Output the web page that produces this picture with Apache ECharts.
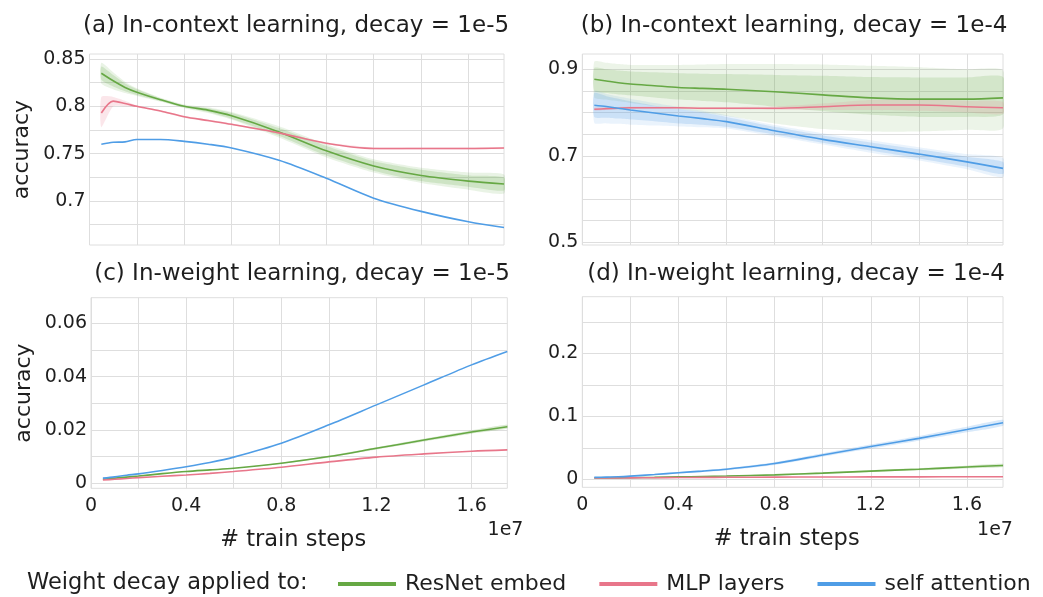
<!DOCTYPE html>
<html><head><meta charset="utf-8">
<script src="https://cdn.jsdelivr.net/npm/echarts@6/dist/echarts.min.js"></script>
<style>html,body{margin:0;padding:0;background:#fff}#c{width:1043px;height:597px}</style>
</head><body><div id="c"></div>
<script>
// ---------- data ----------
const steps = [5e5, 1e6, 1.5e6, 2e6, 3e6, 4e6, 5e6, 6e6, 8e6, 1e7, 1.2e7, 1.4e7, 1.6e7, 1.75e7];
const xGridTicks = [0, 2e6, 4e6, 6e6, 8e6, 1e7, 1.2e7, 1.4e7, 1.6e7];
const xLabelTicks = [0, 4e6, 8e6, 1.2e7, 1.6e7];
const seriesNames = ['ResNet embed', 'MLP layers', 'self attention'];

// (a) In-context, decay 1e-5
const aGreen   = [0.835,0.827,0.820,0.815,0.807,0.800,0.796,0.790,0.773,0.753,0.737,0.727,0.721,0.718];
const aGreenInLo = [0.828,0.821,0.816,0.812,0.8055,0.799,0.794,0.787,0.769,0.748,0.732,0.721,0.715,0.711];
const aGreenInHi = [0.842,0.833,0.824,0.818,0.8085,0.801,0.798,0.793,0.777,0.758,0.742,0.733,0.727,0.725];
const aGreenOutLo = [0.824,0.818,0.814,0.811,0.805,0.798,0.793,0.786,0.767,0.746,0.730,0.719,0.712,0.708];
const aGreenOutHi = [0.846,0.836,0.826,0.819,0.809,0.802,0.799,0.794,0.779,0.760,0.744,0.735,0.730,0.728];
const aRed     = [0.793,0.8055,0.803,0.800,0.795,0.789,0.785,0.781,0.772,0.761,0.7555,0.7555,0.7555,0.756];
const aRedLo   = [0.778,0.800,0.800,0.799,0.794,0.788,0.784,0.780,0.771,0.760,0.7545,0.7545,0.7545,0.755];
const aRedHi   = [0.810,0.810,0.806,0.801,0.796,0.790,0.786,0.782,0.773,0.762,0.7565,0.7565,0.7565,0.757];
const aBlue    = [0.760,0.762,0.7625,0.765,0.765,0.763,0.760,0.756,0.743,0.724,0.703,0.689,0.678,0.672];

// (b) In-context, decay 1e-4
const bGreen   = [0.877,0.873,0.869,0.866,0.862,0.858,0.856,0.854,0.848,0.841,0.834,0.831,0.831,0.834];
const bGreenInLo = [0.850,0.845,0.842,0.840,0.835,0.830,0.827,0.824,0.814,0.803,0.795,0.790,0.790,0.796];
const bGreenInHi = [0.903,0.900,0.897,0.895,0.893,0.891,0.890,0.889,0.887,0.885,0.882,0.881,0.881,0.882];
const bGreenOutLo = [0.835,0.830,0.826,0.822,0.815,0.808,0.800,0.792,0.775,0.762,0.756,0.756,0.760,0.764];
const bGreenOutHi = [0.918,0.915,0.912,0.910,0.910,0.910,0.911,0.912,0.912,0.911,0.908,0.905,0.900,0.897];
const bRed     = [0.8075,0.809,0.810,0.811,0.811,0.811,0.810,0.810,0.810,0.8135,0.8175,0.8175,0.8135,0.811];
const bRedLo   = [0.804,0.806,0.807,0.808,0.808,0.808,0.807,0.807,0.806,0.806,0.806,0.804,0.800,0.797];
const bRedHi   = [0.811,0.812,0.813,0.814,0.814,0.814,0.813,0.813,0.814,0.821,0.829,0.830,0.827,0.825];
const bBlue    = [0.817,0.814,0.810,0.806,0.799,0.792,0.786,0.779,0.758,0.738,0.721,0.704,0.686,0.671];
const bBlueInLo = [0.790,0.788,0.786,0.784,0.780,0.775,0.772,0.767,0.749,0.730,0.712,0.694,0.675,0.658];
const bBlueInHi = [0.845,0.838,0.832,0.826,0.816,0.808,0.800,0.790,0.767,0.747,0.731,0.715,0.698,0.686];
const bBlueOutLo = [0.776,0.775,0.774,0.772,0.770,0.768,0.766,0.763,0.745,0.726,0.707,0.689,0.669,0.651];
const bBlueOutHi = [0.850,0.843,0.837,0.832,0.822,0.813,0.804,0.794,0.771,0.752,0.736,0.720,0.704,0.695];

// (c) In-weight, decay 1e-5
const cGreen   = [0.0015,0.0019,0.0023,0.0027,0.0036,0.0044,0.0050,0.0056,0.0075,0.0100,0.0131,0.0162,0.0192,0.0212];
const cGreenLo = [0.0014,0.0018,0.0022,0.0026,0.0035,0.0043,0.0049,0.0055,0.0073,0.0097,0.0127,0.0157,0.0186,0.0205];
const cGreenHi = [0.0016,0.0020,0.0024,0.0028,0.0037,0.0045,0.0051,0.0057,0.0077,0.0103,0.0135,0.0167,0.0198,0.0219];
const cRed     = [0.0012,0.0015,0.0018,0.0021,0.0026,0.0031,0.0037,0.0044,0.0060,0.0080,0.0098,0.0110,0.0120,0.0125];
const cBlue    = [0.0019,0.0024,0.0030,0.0035,0.0048,0.0062,0.0078,0.0098,0.0150,0.0219,0.0294,0.0369,0.0444,0.0494];

// (d) In-weight, decay 1e-4
const dGreen   = [0.0020,0.0020,0.0022,0.0025,0.0030,0.0038,0.0045,0.0052,0.0070,0.0098,0.0130,0.0160,0.0195,0.0220];
const dGreenLo = [0.0018,0.0018,0.0020,0.0022,0.0026,0.0033,0.0039,0.0045,0.0061,0.0086,0.0115,0.0142,0.0173,0.0195];
const dGreenHi = [0.0022,0.0022,0.0024,0.0028,0.0034,0.0043,0.0051,0.0059,0.0079,0.0110,0.0145,0.0178,0.0217,0.0245];
const dRed     = [0.0020,0.0020,0.0020,0.0022,0.0025,0.0028,0.0030,0.0032,0.0035,0.0037,0.0038,0.0039,0.0040,0.0040];
const dBlue    = [0.0030,0.0035,0.0040,0.0050,0.0075,0.0105,0.0130,0.0160,0.0250,0.0386,0.0520,0.0650,0.0790,0.0898];
const dBlueLo  = [0.0025,0.0029,0.0033,0.0042,0.0065,0.0093,0.0116,0.0144,0.0228,0.0358,0.0487,0.0612,0.0745,0.0850];
const dBlueHi  = [0.0035,0.0041,0.0047,0.0058,0.0085,0.0117,0.0144,0.0176,0.0272,0.0414,0.0553,0.0688,0.0835,0.0946];

// y-axis gridlines / labels
const aYGrid = [0.675,0.7,0.725,0.75,0.775,0.8,0.825,0.85];
const aYLab  = [0.7,0.75,0.8,0.85];
const bYGrid = [0.5,0.55,0.6,0.65,0.7,0.75,0.8,0.85,0.9];
const bYLab  = [0.5,0.7,0.9];
const cYGrid = [0,0.01,0.02,0.03,0.04,0.05,0.06];
const cYLab  = [0,0.02,0.04,0.06];
const dYGrid = [0,0.05,0.1,0.15,0.2,0.25];
const dYLab  = [0,0.1,0.2];

const titles = ['(a) In-context learning, decay = 1e-5','(b) In-context learning, decay = 1e-4',
                '(c) In-weight learning, decay = 1e-5','(d) In-weight learning, decay = 1e-4'];

// ---------- styling ----------
const F = 'DejaVu Sans';
const TXT = '#1e1e1e';
const GREEN = '#66a844', RED = '#e8768a', BLUE = '#4f9de6';
const GREEN_RGB = '102,168,68', RED_RGB = '232,118,138', BLUE_RGB = '79,157,230';
const GRIDC = '#dedede';
const SM = 0.3;

function pts(ys){ return steps.map((x,i)=>[x, ys[i]]); }

const series = [];
function band(g, lo, hi, rgb, alpha){
  series.push({type:'custom', xAxisIndex:g, yAxisIndex:g, data:[[steps[0], lo[0]]], silent:true, z:1, clip:true,
    animation:false,
    renderItem: function(params, api){
      if (params.dataIndex !== 0) return null;
      const up = steps.map((x,i)=>api.coord([x, hi[i]]));
      const dn = steps.map((x,i)=>api.coord([x, lo[i]])).reverse();
      return {type:'polygon', shape:{points: up.concat(dn), smooth:0.2},
        style:{fill:'rgba(' + rgb + ',' + alpha + ')', stroke:null}};
    }});
}
function line(g, name, ys, color){
  series.push({type:'line', name:name, xAxisIndex:g, yAxisIndex:g, data:pts(ys), symbol:'none', smooth:SM,
    lineStyle:{color:color, width:1.6}, itemStyle:{color:color}, z:3, animation:false});
}

// (a)
band(0, aGreenOutLo, aGreenOutHi, GREEN_RGB, 0.14);
band(0, aGreenInLo, aGreenInHi, GREEN_RGB, 0.2);
band(0, aRedLo, aRedHi, RED_RGB, 0.18);
line(0, 'ResNet embed', aGreen, GREEN);
line(0, 'MLP layers', aRed, RED);
line(0, 'self attention', aBlue, BLUE);
// (b)
band(1, bGreenOutLo, bGreenOutHi, GREEN_RGB, 0.12);
band(1, bGreenInLo, bGreenInHi, GREEN_RGB, 0.18);
band(1, bBlueOutLo, bBlueOutHi, BLUE_RGB, 0.12);
band(1, bBlueInLo, bBlueInHi, BLUE_RGB, 0.2);
band(1, bRedLo, bRedHi, RED_RGB, 0.15);
line(1, 'ResNet embed', bGreen, GREEN);
line(1, 'MLP layers', bRed, RED);
line(1, 'self attention', bBlue, BLUE);
// (c)
band(2, cGreenLo, cGreenHi, GREEN_RGB, 0.25);
line(2, 'ResNet embed', cGreen, GREEN);
line(2, 'MLP layers', cRed, RED);
line(2, 'self attention', cBlue, BLUE);
// (d)
band(3, dGreenLo, dGreenHi, GREEN_RGB, 0.22);
band(3, dBlueLo, dBlueHi, BLUE_RGB, 0.22);
line(3, 'ResNet embed', dGreen, GREEN);
line(3, 'MLP layers', dRed, RED);
line(3, 'self attention', dBlue, BLUE);

const grids = [
  {left:89.5, top:54, width:414.5, height:191},
  {left:582.3, top:54, width:420.7, height:191},
  {left:91, top:297.7, width:416.3, height:190.6},
  {left:582.3, top:296.7, width:420.7, height:190.6}
].map(g => Object.assign(g, {show:true, borderColor:GRIDC, borderWidth:1, containLabel:false}));

function xAxis(g, showLabels){
  return {type:'value', gridIndex:g, min:0, max:1.75e7,
    axisLine:{show:false}, axisTick:{show:false, customValues:xGridTicks},
    splitLine:{show:true, lineStyle:{color:GRIDC, width:1}},
    axisLabel:{show:showLabels, customValues:xLabelTicks, fontFamily:F, fontSize:19, color:TXT, margin:8,
      formatter: v => String(+(v/1e7).toFixed(2))},
    name: showLabels ? '# train steps' : '', nameLocation:'middle', nameGap:40,
    nameTextStyle:{fontFamily:F, fontSize:22.5, color:TXT, padding:[0,12,0,0]}
  };
}
function yAxis(g, min, max, gridVals, labVals, name){
  return {type:'value', gridIndex:g, min:min, max:max,
    axisLine:{show:false}, axisTick:{show:false, customValues:gridVals},
    splitLine:{show:true, lineStyle:{color:GRIDC, width:1}},
    axisLabel:{customValues:labVals, fontFamily:F, fontSize:19, color:TXT, margin:4},
    name:name, nameLocation:'middle', nameRotate:90, nameGap:56,
    nameTextStyle:{fontFamily:F, fontSize:22, color:TXT}
  };
}

const titleCenters = [[291,10],[789,10],[297,258],[791,258]];

const option = {
  backgroundColor:'#fff',
  animation:false,
  title: titles.map((t,i)=>({text:t, left:titleCenters[i][0], top:titleCenters[i][1], textAlign:'center',
    textStyle:{fontFamily:F, fontSize:23, fontWeight:'normal', color:TXT}})),
  grid: grids,
  xAxis: [xAxis(0,false), xAxis(1,false), xAxis(2,true), xAxis(3,true)],
  yAxis: [
    yAxis(0, 0.6535, 0.8553, aYGrid, aYLab, 'accuracy'),
    yAxis(1, 0.4938, 0.9354, bYGrid, bYLab, ''),
    yAxis(2, -0.0019, 0.0696, cYGrid, cYLab, 'accuracy'),
    yAxis(3, -0.0127, 0.2898, dYGrid, dYLab, '')
  ],
  legend: {data: seriesNames, left:333, top:568, itemWidth:58, itemHeight:4, itemGap:33, icon:'rect',
    textStyle:{fontFamily:F, fontSize:22, color:TXT, padding:[0,0,0,4]}, selectedMode:false},
  graphic: [
    {type:'text', x:27, y:583, style:{text:'Weight decay applied to:', font:'22.5px "DejaVu Sans"', fill:TXT, verticalAlign:'middle', align:'left'}},
    {type:'text', x:505.5, y:530, style:{text:'1e7', font:'19px "DejaVu Sans"', fill:TXT, verticalAlign:'middle', align:'center'}},
    {type:'text', x:995, y:530, style:{text:'1e7', font:'19px "DejaVu Sans"', fill:TXT, verticalAlign:'middle', align:'center'}}
  ],
  series: series
};
const chart = echarts.init(document.getElementById('c'), null, {renderer:'canvas'});
chart.setOption(option);
</script></body></html>
